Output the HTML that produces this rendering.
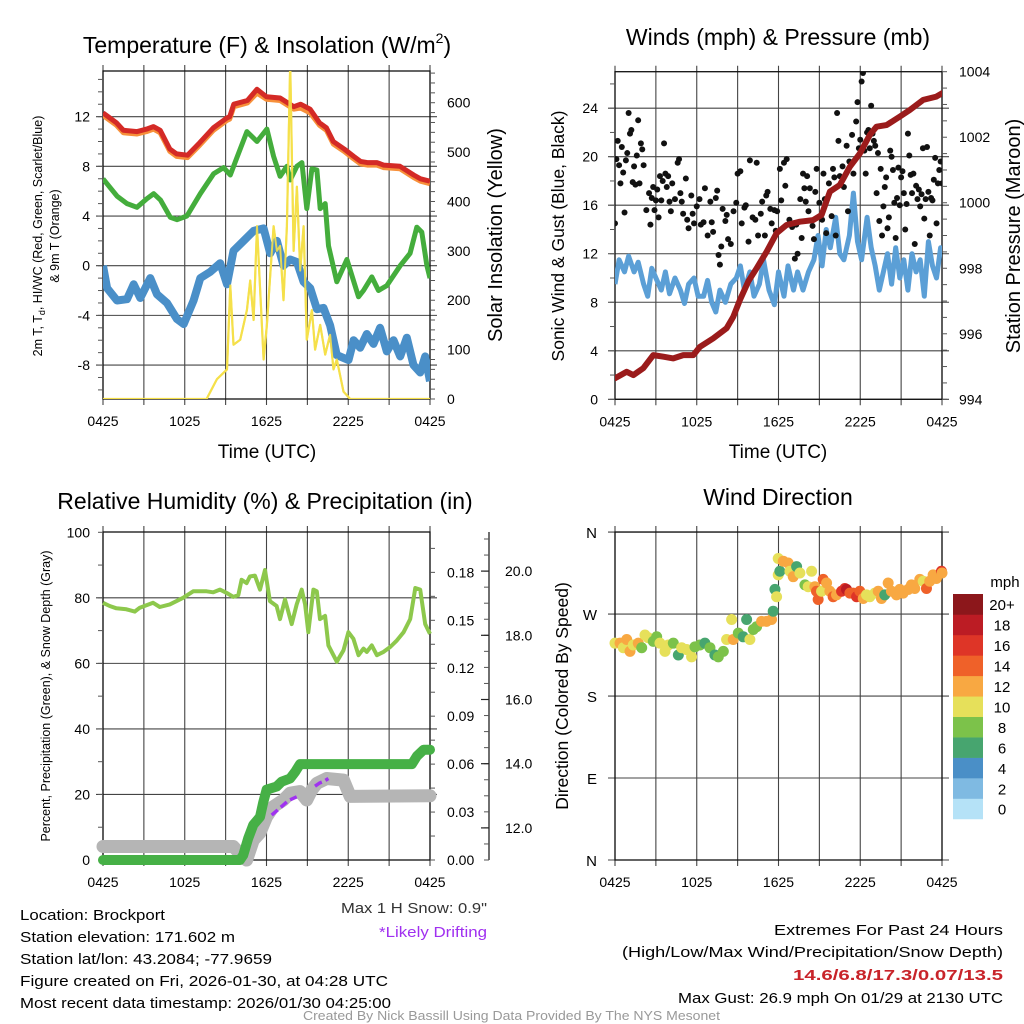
<!DOCTYPE html>
<html><head><meta charset="utf-8">
<style>
html,body{margin:0;padding:0;background:#fff;}
svg{display:block;font-family:"Liberation Sans",sans-serif;}
</style></head>
<body>
<svg id="chart" width="1024" height="1024" viewBox="0 0 1024 1024" xmlns="http://www.w3.org/2000/svg">
<defs>
<clipPath id="c1"><rect x="103" y="71" width="327" height="328"/></clipPath>
<clipPath id="c2"><rect x="615" y="71.7" width="327" height="327.6"/></clipPath>
<clipPath id="c3"><rect x="95" y="526" width="343" height="342"/></clipPath>
<clipPath id="c4"><rect x="609" y="526" width="339" height="340"/></clipPath>
</defs>
<g id="layer"></g>
<text x="267" y="53" font-size="23" text-anchor="middle">Temperature (F) &amp; Insolation (W/m<tspan font-size="14" dy="-10">2</tspan><tspan dy="10">)</tspan></text>
<text x="778" y="45" font-size="23" text-anchor="middle">Winds (mph) &amp; Pressure (mb)</text>
<text x="265" y="509" font-size="23" text-anchor="middle">Relative Humidity (%) &amp; Precipitation (in)</text>
<text x="778" y="505" font-size="23" text-anchor="middle">Wind Direction</text>
<text x="267" y="458" font-size="19" text-anchor="middle">Time (UTC)</text>
<text x="778" y="458" font-size="19" text-anchor="middle">Time (UTC)</text>
<text transform="translate(42,236) rotate(-90)" font-size="12.5" text-anchor="middle">2m T, T<tspan font-size="9" dy="3">d</tspan><tspan dy="-3">, HI/WC (Red, Green, Scarlet/Blue)</tspan></text>
<text transform="translate(59,236) rotate(-90)" font-size="12.5" text-anchor="middle">&amp; 9m T (Orange)</text>
<text transform="translate(502,235) rotate(-90)" font-size="20" text-anchor="middle">Solar Insolation (Yellow)</text>
<text transform="translate(564,236) rotate(-90)" font-size="17.5" text-anchor="middle">Sonic Wind &amp; Gust (Blue, Black)</text>
<text transform="translate(1020,236) rotate(-90)" font-size="20" text-anchor="middle">Station Pressure (Maroon)</text>
<text transform="translate(50,696) rotate(-90)" font-size="12.5" text-anchor="middle">Percent, Precipitation (Green), &amp; Snow Depth (Gray)</text>
<text transform="translate(568,696) rotate(-90)" font-size="17.5" text-anchor="middle">Direction (Colored By Speed)</text>
<g font-size="15">
<text x="20" y="920" textLength="145" lengthAdjust="spacingAndGlyphs">Location: Brockport</text>
<text x="20" y="942" textLength="215" lengthAdjust="spacingAndGlyphs">Station elevation: 171.602 m</text>
<text x="20" y="964" textLength="252" lengthAdjust="spacingAndGlyphs">Station lat/lon: 43.2084; -77.9659</text>
<text x="20" y="986" textLength="368" lengthAdjust="spacingAndGlyphs">Figure created on Fri, 2026-01-30, at 04:28 UTC</text>
<text x="20" y="1008" textLength="371" lengthAdjust="spacingAndGlyphs">Most recent data timestamp: 2026/01/30 04:25:00</text>
</g>
<text x="341" y="913" font-size="15" fill="#333" textLength="146" lengthAdjust="spacingAndGlyphs">Max 1 H Snow: 0.9"</text>
<text x="379" y="937" font-size="15" fill="#a030f0" textLength="108" lengthAdjust="spacingAndGlyphs">*Likely Drifting</text>
<text x="774" y="935" font-size="15" textLength="229" lengthAdjust="spacingAndGlyphs">Extremes For Past 24 Hours</text>
<text x="622" y="957" font-size="15" textLength="381" lengthAdjust="spacingAndGlyphs">(High/Low/Max Wind/Precipitation/Snow Depth)</text>
<text x="793" y="980" font-size="15" font-weight="bold" fill="#c8242a" textLength="210" lengthAdjust="spacingAndGlyphs">14.6/6.8/17.3/0.07/13.5</text>
<text x="678" y="1003" font-size="15" textLength="325" lengthAdjust="spacingAndGlyphs">Max Gust: 26.9 mph On 01/29 at 2130 UTC</text>
<text x="303" y="1020" font-size="12.5" fill="#999" textLength="417" lengthAdjust="spacingAndGlyphs">Created By Nick Bassill Using Data Provided By The NYS Mesonet</text>
</svg>
<script>
// ---------- data ----------
const xTickLabels = ["0425","1025","1625","2225","0425"];
const tempTicks = [12,8,4,0,-4,-8];
const solarTicks = [0,100,200,300,400,500,600];
const windTicks = [0,4,8,12,16,20,24];
const pressTicks = [994,996,998,1000,1002,1004];
const rhTicks = [0,20,40,60,80,100];
const precipTicks = [0,0.03,0.06,0.09,0.12,0.15,0.18];
const snowTicks = [12,14,16,18,20];
const dirTickLabels = ["N","E","S","W","N"];
const speedBins = ["0","2","4","6","8","10","12","14","16","18","20+"];
const speedColors = ["#b5e2f7","#7fbae2","#4a8fc7","#47a56f","#7cc24a","#e6e05a","#f8a842","#ef6129","#de3527","#bc1c24","#8c171b"];

const tempHours = [0,1,1.5,2.5,3.2,3.7,4.2,4.9,5.4,6.2,7.1,8.1,9.1,9.3,9.6,10.6,11.3,12,13,14,14.5,15.2,15.9,16.4,16.9,17.7,18.4,18.9,19.4,20.1,20.6,21.8,22.8,23.3,24];
const tempVals = [12.3,11.5,10.9,10.8,11.0,11.2,10.9,9.4,9.0,8.9,9.9,11.1,11.9,12.0,13.0,13.3,14.2,13.6,13.5,12.8,13.0,12.6,11.5,11.1,10.0,9.4,8.8,8.4,8.3,8.3,8.1,8.0,7.3,7.0,6.8];
const temp9mVals = [12.1,11.3,10.7,10.6,10.8,11.0,10.7,9.2,8.8,8.7,9.7,10.9,11.7,11.8,12.8,13.1,13.9,13.4,13.3,12.6,12.7,12.3,11.3,10.9,9.8,9.2,8.6,8.2,8.1,8.1,7.9,7.8,7.1,6.8,6.6];
const dewHours = [0,1.03,1.76,2.49,3.23,3.72,4.21,4.94,5.43,6.16,7.14,8.12,8.85,9.34,9.83,10.56,11.3,12.03,12.52,13.0,13.5,13.74,14.23,14.6,14.96,15.33,15.7,15.94,16.31,16.55,17.16,17.9,18.75,19.12,19.73,20.22,20.83,21.81,22.54,23.03,23.4,23.77,24];
const dewVals = [7.0,5.6,5.0,4.7,5.4,5.8,5.3,3.9,3.7,4.0,5.8,7.4,7.9,7.3,8.7,10.8,10.0,11.0,8.8,7.2,8.0,6.9,8.0,8.3,4.6,7.8,7.7,4.6,5.0,1.6,-1.3,0.5,-2.5,-2.0,-0.9,-2.0,-1.6,0.0,1.0,3.1,2.7,0.0,-1.0];
const wcHours = [0,0.3,1.03,1.76,2.25,2.74,3.47,3.96,4.7,5.43,5.92,6.65,7.14,7.87,8.6,9.1,9.58,10.32,11.05,11.79,12.27,12.76,13.25,13.74,14.23,14.72,15.21,15.7,16.18,16.67,17.16,18.02,18.39,18.88,19.36,19.85,20.34,20.83,21.32,21.81,22.3,22.79,23.28,23.65,24];
const wcVals = [0,-1.8,-2.8,-2.7,-1.5,-2.6,-1.0,-2.3,-3.0,-4.3,-4.7,-2.8,-1.0,-0.5,0.2,-1.5,1.2,2.0,2.8,3.0,1.0,2.0,0.0,0.5,0.3,-1.3,-1.8,-3.5,-3.4,-4.8,-7.2,-7.6,-6.0,-6.6,-5.5,-6.3,-5.0,-6.9,-6.0,-7.3,-5.8,-8.0,-8.6,-7.3,-9.3];
const solarHours = [0,7.6,8.36,9.1,9.34,9.58,10.07,10.56,10.8,11.05,11.3,11.79,12.03,12.27,12.52,12.76,13.0,13.25,13.5,13.74,13.99,14.23,14.47,14.72,14.96,15.33,15.57,15.94,16.31,16.67,16.92,17.16,17.65,18.14,24];
const solarVals = [0,0,40,60,230,110,120,180,240,160,350,80,150,250,350,300,310,200,350,680,300,430,260,350,120,180,100,150,90,130,60,80,15,0,0];

const windHours = [0,0.3,0.7,1.0,1.4,1.7,2.1,2.4,2.7,3.0,3.4,3.7,4.0,4.4,4.8,5.1,5.4,5.8,6.1,6.5,6.8,7.1,7.4,7.7,8.1,8.5,8.9,9.2,9.5,9.9,10.2,10.6,10.9,11.3,11.7,12.0,12.4,12.7,13.1,13.4,13.8,14.2,14.6,14.9,15.2,15.5,15.8,16.2,16.5,16.8,17.2,17.5,17.8,18.1,18.5,18.8,19.1,19.4,19.7,20.0,20.3,20.6,20.9,21.2,21.5,21.8,22.1,22.4,22.7,23.0,23.3,23.6,23.9,24];
const windVals = [9.5,11.5,10.5,11.8,10.5,11.3,9.5,8.5,10.8,10.0,9.0,10.5,8.7,10.0,9.0,7.9,9.5,10.0,8.5,8.5,9.8,8.0,7.2,9.0,8.0,9.5,10.0,11.0,9.0,10.5,8.5,9.5,11.5,9.0,7.8,10.5,8.5,11.0,9.0,10.5,9.0,10.5,11.5,13.5,11.0,14.0,12.5,15.0,12.0,11.5,13.5,17.0,13.0,11.5,15.0,12.5,11.0,9.0,10.5,12.0,9.5,12.5,10.0,11.5,9.0,12.0,10.5,11.5,8.5,13.0,11.0,10.0,12.5,12.0];
const gustHours = [0,0.1,0.2,0.3,0.4,0.5,0.6,0.7,0.8,0.9,1.0,1.1,1.2,1.3,1.4,1.5,1.6,1.7,1.8,1.9,2.0,2.1,2.3,2.5,2.6,2.7,2.8,2.9,3.0,3.1,3.2,3.3,3.4,3.5,3.6,3.7,3.8,3.9,4.0,4.1,4.2,4.4,4.6,4.7,4.8,4.9,5.0,5.2,5.3,5.4,5.6,5.7,5.8,6.0,6.2,6.3,6.5,6.6,6.8,7.0,7.1,7.2,7.4,7.5,7.6,7.7,7.8,7.9,8.1,8.2,8.3,8.5,8.7,8.9,9.0,9.2,9.3,9.5,9.6,9.8,9.9,10.1,10.3,10.4,10.5,10.7,10.8,11.0,11.1,11.2,11.4,11.5,11.7,11.8,11.9,12.1,12.2,12.4,12.5,12.6,12.8,13.0,13.2,13.3,13.4,13.6,13.7,13.8,13.9,14.0,14.1,14.2,14.3,14.5,14.6,14.7,14.8,15.0,15.2,15.3,15.4,15.5,15.7,15.9,16.0,16.1,16.2,16.3,16.4,16.5,16.7,16.8,17.0,17.1,17.2,17.4,17.5,17.7,17.8,17.9,18.0,18.1,18.2,18.3,18.4,18.5,18.6,18.7,18.8,18.9,19.0,19.1,19.2,19.3,19.4,19.5,19.6,19.7,19.8,19.9,20.0,20.1,20.2,20.3,20.4,20.5,20.6,20.7,20.8,20.9,21.0,21.1,21.2,21.3,21.4,21.5,21.6,21.7,21.8,21.9,22.0,22.1,22.2,22.3,22.4,22.5,22.6,22.7,22.8,22.9,23.0,23.1,23.2,23.3,23.4,23.5,23.6,23.7,23.8,23.9,24];
const gustVals = [14.5,19.8,21.3,19.3,17.8,20.8,18.7,15.4,19.7,20.3,23.6,21.9,22.2,17.9,19.2,17.7,20.1,23.0,17.8,21.1,20.6,19.3,15.6,17.0,14.4,16.6,17.5,15.6,16.4,17.3,15.0,18.4,16.4,18.0,21.1,18.6,17.5,18.4,16.3,15.5,17.8,16.5,19.5,19.8,17.0,16.3,15.3,18.2,14.8,14.1,16.8,15.3,14.5,15.9,16.5,14.4,14.6,17.4,13.5,16.3,14.6,13.8,16.6,17.2,11.9,11.1,12.6,15.7,14.7,15.2,13.2,12.8,15.5,16.2,18.6,18.8,14.5,15.8,16.0,13.0,19.7,15.0,14.8,19.5,13.5,15.3,16.3,13.5,16.8,17.1,15.7,14.5,15.6,13.9,15.5,19.0,16.4,19.5,17.6,19.8,14.8,14.2,11.6,14.4,12.0,16.5,13.3,18.6,17.4,16.3,18.4,15.5,17.4,14.3,13.2,17.1,19.0,16.2,14.8,18.6,16.5,13.7,17.8,15.1,19.0,18.3,13.5,23.6,21.3,18.4,19.2,17.5,20.9,15.5,19.6,21.8,18.6,22.9,24.5,20.7,21.4,26.2,26.9,20.5,18.6,22.0,22.2,20.7,24.2,21.9,21.3,20.9,17.0,20.3,14.7,19.0,13.5,15.9,17.5,18.3,14.1,15.0,20.5,20.0,18.9,16.2,13.3,16.6,19.1,16.0,18.3,18.8,17.0,14.0,16.1,21.9,20.1,18.5,17.0,18.6,12.8,17.6,16.5,17.3,15.9,16.9,20.7,14.9,16.5,20.8,17.1,13.5,16.6,16.4,18.1,19.9,14.5,17.8,18.9,19.6,17.8];
const pressHours = [0,0.86,1.34,2.08,2.81,3.55,4.28,5.01,5.75,6.23,7.21,8.19,8.68,9.17,9.78,10.39,11.12,11.86,12.59,13.57,14.55,15.16,15.77,16.5,17.24,17.97,18.7,19.19,19.93,20.9,21.64,22.62,23.59,24];
const pressVals = [994.64,994.84,994.74,994.95,995.35,995.30,995.25,995.35,995.35,995.6,995.86,996.17,996.52,997.03,997.6,998.0,998.5,999.07,999.32,999.42,999.47,999.63,1000.34,1000.54,1001.1,1001.5,1002.07,1002.32,1002.37,1002.63,1002.83,1003.14,1003.24,1003.34];

const rhHours = [0,0.49,0.98,1.72,2.33,2.7,3.68,4.17,4.9,5.88,6.62,7.6,8.09,8.58,9.07,9.56,9.93,10.17,10.54,10.78,11.15,11.52,11.89,12.25,12.74,12.99,13.36,13.85,14.22,14.58,14.83,15.07,15.44,15.69,15.93,16.3,16.54,17.16,17.65,18.01,18.38,18.75,19.12,19.36,19.73,20.1,20.59,21.08,21.57,22.06,22.55,22.92,23.28,23.65,24];
const rhVals = [78.5,77.5,76.8,76.5,75.8,77.0,78.5,77.2,78.0,80.0,82.0,82.0,81.7,82.5,81.5,80.3,80.8,85.5,84.5,86.5,86.8,82.5,88.5,79.0,77.5,73.5,79.5,72.0,78.0,82.5,78.0,69.5,82.5,82.0,73.5,74.5,65.5,60.5,64.0,69.5,67.5,62.5,64.5,63.5,65.5,62.5,63.5,65.0,67.0,69.5,73.5,83.0,82.5,72.0,69.0];
const precipHours = [0,10.05,10.29,10.66,11.03,11.52,11.76,12.01,12.75,13.11,13.73,14.09,14.46,22.67,23.04,23.53,24];
const precipVals = [0,0,0.003,0.0136,0.022,0.027,0.036,0.044,0.046,0.049,0.051,0.055,0.06,0.06,0.065,0.069,0.069];
const snowHours = [0,9.56,10.05,10.54,11.03,11.52,12.01,12.5,13.24,13.73,14.46,14.95,15.32,15.69,16.42,17.65,18.14,24];
const snowVals = [11.42,11.42,11.2,11.0,11.62,11.85,12.35,12.66,12.87,13.08,13.13,12.87,13.18,13.39,13.54,13.49,12.98,13.0];
const driftHours1 = [12.38,12.8,13.2,13.6,14.22];
const driftVals1 = [12.4,12.55,12.7,12.85,12.97];
const driftHours2 = [15.56,15.9,16.2,16.54];
const driftVals2 = [13.3,13.4,13.45,13.54];

const dirHours = [0,0.37,0.61,0.86,1.1,1.34,1.71,1.96,2.2,2.44,2.81,3.06,3.3,3.67,3.91,4.28,4.65,4.89,5.26,5.62,5.87,6.23,6.6,6.97,7.33,7.58,7.95,8.19,8.56,8.68,9.05,9.41,9.66,9.9,10.15,10.39,10.76,11.12,11.49,11.61,11.74,11.86,11.98,12.1,11.98,12.35,12.71,12.84,13.08,13.33,13.57,13.94,14.18,14.43,14.67,14.79,14.91,15.16,15.28,15.53,15.77,16.01,16.26,16.63,16.87,16.99,17.24,17.48,17.73,17.97,18.22,18.46,18.7,19.07,19.32,19.56,19.8,20.05,20.29,20.66,20.9,21.15,21.52,21.76,22.0,22.37,22.62,22.86,23.1,23.35,23.59,23.96,24];
const dirVals = [238,238,233,242,229,236,238,233,247,244,240,245,238,229,236,238,225,233,231,223,234,236,238,233,225,223,229,242,264,242,249,245,264,242,253,256,262,262,264,273,297,289,313,317,331,328,326,317,311,322,315,302,300,317,300,295,286,295,308,304,295,289,291,295,298,297,293,293,289,295,287,291,289,293,295,287,291,304,295,291,297,293,297,302,298,308,306,298,306,313,309,317,315];
const dirSpeeds = [11,12,10,12,12,11,12,8,10,11,9,8,10,10,10,8,7,10,10,10,8,8,7,8,7,9,8,10,10,12,8,7,7,10,8,9,12,12,12,7,7,10,10,7,11,12,12,10,12,7,11,8,10,10,12,14,14,11,15,13,12,14,13,16,16,18,15,14,16,14,12,11,10,11,12,12,7,12,12,12,12,13,12,13,12,12,11,15,12,12,12,17,12];

// ---------- helpers ----------
const NS = "http://www.w3.org/2000/svg";
const layer = document.getElementById("layer");
function mk(tag, attrs, parent) {
  const e = document.createElementNS(NS, tag);
  for (const k in attrs) e.setAttribute(k, attrs[k]);
  (parent || layer).appendChild(e);
  return e;
}
function lineGen(hours, vals, xs, ys) {
  return hours.map((h, i) => (i ? "L" : "M") + xs(h).toFixed(1) + "," + ys(vals[i]).toFixed(1)).join("");
}
function speedColor(s) {
  const idx = Math.min(10, Math.max(0, Math.floor(s / 2)));
  return speedColors[idx];
}

const P1 = {x0:103, x1:430, top:71, bot:399};
const P2 = {x0:615, x1:942, top:71.7, bot:399.3};
const P3 = {x0:103, x1:430, top:532, bot:860};
const P4 = {x0:615, x1:942, top:532, bot:860};
const xs1 = h => P1.x0 + h * (P1.x1 - P1.x0) / 24;
const xs2 = h => P2.x0 + h * (P2.x1 - P2.x0) / 24;
const ysTemp = v => 265.7 - v * 12.42;
const ysSolar = v => 399 - v * 0.4938;
const ysWind = v => 399.3 - v * 12.13;
const ysPress = v => 399.3 - (v - 994) * 32.76;
const ysRH = v => 860 - v * 3.277;
const ysPrecip = v => 860 - v * 1598;
const ysSnow = v => 860 - (v - 11) * 32.1;
const ysDir = v => 860 - v * 0.911;

function grid(P, xs, hLines, name) {
  const g = mk("g", {});
  
  
  for (let i = 0; i <= 8; i++) {
    const x = xs(i * 3);
    const l = mk("line", {x1:x, x2:x, y1:P.top - 6, y2:P.bot + 6, stroke:"#444", "stroke-width":1.1}, g);
    
    
  }
  hLines.forEach(y => {
    const l = mk("line", {x1:P.x0 - 7, x2:P.x1 + 7, y1:y, y2:y, stroke:"#444", "stroke-width":1.1}, g);
    
    
  });
  const b = mk("rect", {x:P.x0, y:P.top, width:P.x1 - P.x0, height:P.bot - P.top, fill:"none", stroke:"#111", "stroke-width":1.3}, g);
  
  
  xTickLabels.forEach((t, i) => {
    const tx = mk("text", {x:xs(i * 6), y:P.bot + 27, "font-size":14, "text-anchor":"middle"}, g);
    tx.textContent = t;
    
    
  });
}
function minorTicks(x, ys, from, to, step, dir) {
  for (let v = from; v <= to + 1e-9; v += step) {
    const y = ys(v);
    mk("line", {x1:x, x2:x + dir * 5, y1:y, y2:y, stroke:"#555", "stroke-width":1});
  }
}
function yLabels(ticks, ys, x, anchor, fmt) {
  ticks.forEach(v => {
    const t = mk("text", {x:x, y:ys(v) + 5, "font-size":14, "text-anchor":anchor});
    t.textContent = fmt ? fmt(v) : v;
    
    
  });
}

// ---------- panel 1 ----------
grid(P1, xs1, tempTicks.map(ysTemp), "temperature");
minorTicks(P1.x0, ysTemp, -10, 15, 1, -1);
minorTicks(P1.x1, ysSolar, 0, 660, 20, 1);
yLabels(tempTicks, ysTemp, 90, "end");
yLabels(solarTicks, ysSolar, 447, "start");
const g1 = mk("g", {"clip-path":"url(#c1)"});
let p;
p = mk("path", {d:lineGen(solarHours, solarVals, xs1, ysSolar), fill:"none", stroke:"#f5e04a", "stroke-width":2.2, "stroke-linejoin":"round"}, g1);


p = mk("path", {d:lineGen(wcHours, wcVals, xs1, ysTemp), fill:"none", stroke:"#4a8fc8", "stroke-width":8, "stroke-linejoin":"round"}, g1);


p = mk("path", {d:lineGen(dewHours, dewVals, xs1, ysTemp), fill:"none", stroke:"#44ad3c", "stroke-width":5, "stroke-linejoin":"round"}, g1);


p = mk("path", {d:lineGen(tempHours, temp9mVals, xs1, ysTemp), fill:"none", stroke:"#f7903a", "stroke-width":5, "stroke-linejoin":"round"}, g1);


p = mk("path", {d:lineGen(tempHours, tempVals, xs1, ysTemp), fill:"none", stroke:"#d42a26", "stroke-width":5, "stroke-linejoin":"round"}, g1);


p = mk("path", {d:lineGen(solarHours, solarVals, xs1, ysSolar), fill:"none", stroke:"#f5e04a", "stroke-width":2, "stroke-linejoin":"round", opacity:0.9}, g1);



// ---------- panel 2 ----------
grid(P2, xs2, windTicks.map(ysWind), "wind");
minorTicks(P2.x0, ysWind, 0, 27, 2, -1);
minorTicks(P2.x1, ysPress, 994, 1004, 0.5, 1);
yLabels(windTicks, ysWind, 598, "end");
yLabels(pressTicks, ysPress, 959, "start");
const g2 = mk("g", {"clip-path":"url(#c2)"});
p = mk("path", {d:lineGen(windHours, windVals, xs2, ysWind), fill:"none", stroke:"#5b9fd6", "stroke-width":5, "stroke-linejoin":"round"}, g2);


gustHours.forEach((h, i) => {
  const c = mk("circle", {cx:xs2(h), cy:ysWind(gustVals[i]), r:3, fill:"#111"}, g2);
  
  
});
p = mk("path", {d:lineGen(pressHours, pressVals, xs2, ysPress), fill:"none", stroke:"#9b1b1b", "stroke-width":6, "stroke-linejoin":"round", "stroke-linecap":"round"}, g2);



// ---------- panel 3 ----------
grid(P3, xs1, rhTicks.filter(v => v > 0 && v < 100).map(ysRH), "humidity");
minorTicks(P3.x0, ysRH, 0, 100, 10, -1);
minorTicks(P3.x1, ysPrecip, 0, 0.2, 0.015, 1);
yLabels(rhTicks, ysRH, 90, "end");
yLabels(precipTicks, ysPrecip, 447, "start", v => v.toFixed(2));
mk("line", {x1:489, x2:489, y1:532, y2:860, stroke:"#222", "stroke-width":1.3});
minorTicks(489, ysSnow, 11, 21, 0.5, -1);
snowTicks.forEach(v => {
  mk("line", {x1:489, x2:481, y1:ysSnow(v), y2:ysSnow(v), stroke:"#222", "stroke-width":1.2});
});
yLabels(snowTicks, ysSnow, 505, "start", v => v.toFixed(1));
const g3 = mk("g", {"clip-path":"url(#c3)"});
p = mk("path", {d:lineGen(snowHours, snowVals, xs1, ysSnow), fill:"none", stroke:"#b5b5b5", "stroke-width":13, "stroke-linejoin":"round", "stroke-linecap":"round"}, g3);


p = mk("path", {d:lineGen(precipHours, precipVals, xs1, ysPrecip), fill:"none", stroke:"#46b046", "stroke-width":10, "stroke-linejoin":"round", "stroke-linecap":"round"}, g3);


[[driftHours1, driftVals1], [driftHours2, driftVals2]].forEach(([hh, vv]) => {
  const d = mk("path", {d:lineGen(hh, vv, xs1, ysSnow), fill:"none", stroke:"#a032f0", "stroke-width":3.5, "stroke-dasharray":"8 4"}, g3);
  
  
});
p = mk("path", {d:lineGen(rhHours, rhVals, xs1, ysRH), fill:"none", stroke:"#8dc84c", "stroke-width":4, "stroke-linejoin":"round"}, g3);



// ---------- panel 4 ----------
grid(P4, xs2, [0,90,180,270,360].map(ysDir), "direction");
dirTickLabels.forEach((t, i) => {
  const tx = mk("text", {x:597, y:ysDir(i * 90) + 6, "font-size":15, "text-anchor":"end"});
  tx.textContent = t;
  
  
});
const g4 = mk("g", {"clip-path":"url(#c4)"});
dirHours.forEach((h, i) => {
  const c = mk("circle", {cx:xs2(h), cy:ysDir(dirVals[i]), r:5.5, fill:speedColor(dirSpeeds[i])}, g4);
  
  
});
const cb = mk("g", {});


const cbTop = 594, cbH = 20.45;
speedBins.forEach((lab, i) => {
  const y = cbTop + (10 - i) * cbH;
  const r = mk("rect", {x:953, y:y, width:30, height:cbH + 0.3, fill:speedColors[i]}, cb);
  
  
  const t = mk("text", {x:1002, y:y + cbH / 2 + 6, "font-size":15, "text-anchor":"middle"}, cb);
  t.textContent = lab;
  
  
});
const mph = mk("text", {x:1005, y:587, "font-size":15, "text-anchor":"middle"}, cb);
mph.textContent = "mph";


</script>
</body></html>
